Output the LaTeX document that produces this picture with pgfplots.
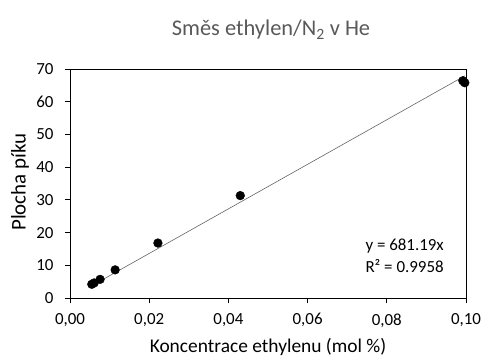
\documentclass[border=0pt]{standalone}
\usepackage{pgfplots}
\pgfplotsset{compat=1.18}
\usepackage{fontspec}
\setmainfont{Carlito}
\definecolor{titlegray}{RGB}{89,89,89}
\definecolor{linegray}{RGB}{100,100,100}
\begin{document}
\begin{tikzpicture}[x=1bp,y=1bp]
\useasboundingbox (-70,-62) rectangle (416,298);
\begin{axis}[
  at={(0,0)}, anchor=south west,
  scale only axis, width=396bp, height=229bp,
  xmin=0, xmax=0.1, ymin=0, ymax=70,
  xtick={0,0.02,0.04,0.06,0.08,0.1},
  ytick={0,10,...,70},
  tick align=outside, tick pos=left,
  major tick length=5bp,
  axis line style={black, line width=0.8pt},
  every tick/.style={black, line width=0.8pt},
  /pgf/number format/assume math mode=true,
  xticklabel style={/pgf/number format/.cd, fixed, fixed zerofill, precision=2, use comma, /tikz/.cd, yshift=-7bp},
  yticklabel style={/pgf/number format/.cd, fixed, precision=0, /tikz/.cd, xshift=-8bp},
  tick label style={font=\fontsize{17}{20}\selectfont, text=black},
  scaled x ticks=false,
  clip=false,
]
\addplot[linegray, line width=0.6pt, no marks] coordinates {(0.0055,3.7465) (0.0997,67.91)};
\addplot[only marks, mark=*, mark size=4.4pt, black] coordinates {
(0.0055,4.2) (0.0061,4.6) (0.0076,5.7) (0.0114,8.6) (0.0222,16.8) (0.0430,31.3) (0.0992,66.4) (0.0997,65.8)};
\end{axis}
\node[text=titlegray, font=\fontsize{22.5}{27}\selectfont] at (201,268) {Směs ethylen/N\textsubscript{2} v He};
\node[font=\fontsize{19.5}{23}\selectfont] at (198,-49) {Koncentrace ethylenu (mol \%)};
\node[font=\fontsize{21}{25}\selectfont, rotate=90] at (-50,116) {Plocha píku};
\node[anchor=west, font=\fontsize{17}{20}\selectfont] at (292,52) {y = 681.19x};
\node[anchor=west, font=\fontsize{17}{20}\selectfont] at (292,32) {R² = 0.9958};
\end{tikzpicture}
\end{document}
